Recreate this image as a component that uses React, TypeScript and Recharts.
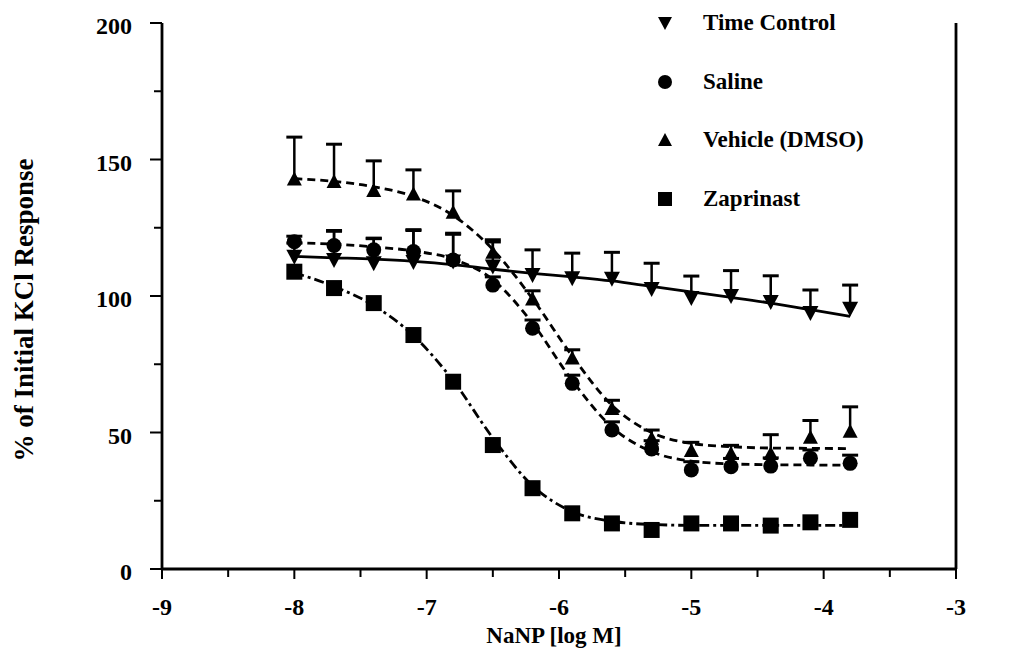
import {
  ComposedChart,
  ErrorBar,
  Line,
  Scatter,
  XAxis,
  YAxis,
} from 'recharts'

// NaNP concentration, log M
const doses = [-8, -7.7, -7.4, -7.1, -6.8, -6.5, -6.2, -5.9, -5.6, -5.3, -5, -4.7, -4.4, -4.1, -3.8]

// measured means (% of initial KCl response)
const timeControl = [114.4, 113.2, 112, 112.5, 112.6, 110.8, 107.7, 106.5, 106.3, 102.6, 99.3, 100, 97.8, 93.8, 95.3]
const saline = [119.9, 118.5, 116.9, 116.3, 113.2, 104, 88.2, 68, 50.9, 44, 36.3, 37.5, 37.7, 40.6, 38.7]
const vehicle = [142.9, 141.9, 138.6, 137.4, 130.7, 116, 98.9, 77.3, 58.8, 47.9, 43.4, 42.3, 42.3, 48.3, 50.5]
const zaprinast = [108.9, 102.9, 97.4, 85.7, 68.6, 45.4, 29.6, 20.4, 16.7, 14.3, 16.7, 16.7, 15.9, 17.1, 18]

// upper SEM
const timeControlErr = [5, 10.5, 9, 11.5, 10, 9, 9.2, 9.2, 9.7, 9.4, 8, 9.3, 9.6, 8.4, 8.7]
const salineErr = [2, 5.5, 4.3, 8, 9.8, 3, 3, 3, 3, 3, 3, 3, 3, 3, 3]
const vehicleErr = [15.3, 13.7, 10.9, 8.8, 7.8, 4.6, 3, 3, 3, 3, 3, 3, 6.9, 6.1, 8.9]

// fitted curves
const timeControlFit = [114.5, 114, 113.5, 112.7, 111.5, 109.8, 108.3, 107, 105.5, 103.5, 101.5, 99.5, 97.4, 95, 92.5]
const salineFit = [119.5, 119, 118, 116.5, 113.5, 106, 90, 69, 52, 43, 39.5, 38.5, 38.2, 38.1, 38]
const vehicleFit = [143, 142, 140, 136.5, 129.5, 117, 99, 78, 60, 50, 46, 44.8, 44.3, 44.2, 44.1]
const zaprinastFit = [108.5, 103.5, 96.5, 85.5, 69, 48, 30.5, 21, 17.5, 16.3, 16, 16, 16, 16, 16]

const xTicks = [-9, -8.5, -8, -7.5, -7, -6.5, -6, -5.5, -5, -4.5, -4, -3.5, -3]
const yTicks = [0, 25, 50, 75, 100, 125, 150, 175, 200]

const legendItems = [
  { name: 'Time Control', marker: 'down' },
  { name: 'Saline', marker: 'circle' },
  { name: 'Vehicle (DMSO)', marker: 'up' },
  { name: 'Zaprinast', marker: 'square' },
]

const rows = doses.map((x, i) => ({
  x,
  tc: timeControl[i],
  sal: saline[i],
  veh: vehicle[i],
  zap: zaprinast[i],
  tcErr: [0, timeControlErr[i]],
  salErr: [0, salineErr[i]],
  vehErr: [0, vehicleErr[i]],
  tcTop: timeControl[i] + timeControlErr[i],
  salTop: saline[i] + salineErr[i],
  vehTop: vehicle[i] + vehicleErr[i],
  tcFit: timeControlFit[i],
  salFit: salineFit[i],
  vehFit: vehicleFit[i],
  zapFit: zaprinastFit[i],
}))

const FONT = '"Liberation Serif", "Times New Roman", serif'

function markerPath(kind: string, cx: number, cy: number, s: number) {
  const h = s / 2
  if (kind === 'down') return `M${cx - h},${cy - h + 1} L${cx + h},${cy - h + 1} L${cx},${cy + h} Z`
  if (kind === 'up') return `M${cx - h},${cy + h - 1} L${cx + h},${cy + h - 1} L${cx},${cy - h} Z`
  if (kind === 'square') return `M${cx - h},${cy - h} h${s} v${s} h${-s} Z`
  return ''
}

const Marker = ({ kind, cx, cy, size }: { kind: string; cx: number; cy: number; size: number }) =>
  kind === 'circle' ? (
    <circle cx={cx} cy={cy} r={size / 2} fill="#000" />
  ) : (
    <path d={markerPath(kind, cx, cy, size)} fill="#000" />
  )

const shapeOf = (kind: string, size: number) => (p: any) => (
  <Marker kind={kind} cx={p.cx} cy={p.cy} size={size} />
)

// cap of an error bar (the stem comes from ErrorBar)
const Cap = (p: any) => (
  <line x1={p.cx - 8} x2={p.cx + 8} y1={p.cy} y2={p.cy} stroke="#000" strokeWidth={3} />
)

const XTick = (p: any) => {
  const v = p.payload.value
  const major = Number.isInteger(v)
  return (
    <g>
      <line x1={p.x} x2={p.x} y1={p.y} y2={p.y + (major ? 10 : 8)} stroke="#000" strokeWidth={2} />
      {major && (
        <text x={p.x} y={p.y + 46} textAnchor="middle" fontFamily={FONT} fontWeight="bold" fontSize={24} fill="#000">
          {String(v)}
        </text>
      )}
    </g>
  )
}

const LeftTick = (p: any) => {
  const v = p.payload.value
  const major = v % 50 === 0
  return (
    <g>
      <line x1={p.x} x2={p.x - (major ? 12 : 8)} y1={p.y} y2={p.y} stroke="#000" strokeWidth={2} />
      {major && (
        <text x={p.x - 30} y={p.y + 11} textAnchor="end" fontFamily={FONT} fontWeight="bold" fontSize={24} fill="#000">
          {v}
        </text>
      )}
    </g>
  )
}

const RightTick = (p: any) => {
  const v = p.payload.value
  const major = v % 50 === 0
  return (
    <g>
      <line x1={p.x} x2={p.x + (major ? 12 : 9)} y1={p.y} y2={p.y} stroke="#000" strokeWidth={2} />
      {major && (
        <text x={p.x + 23} y={p.y + 11} textAnchor="start" fontFamily={FONT} fontWeight="bold" fontSize={24} fill="#000">
          {v}
        </text>
      )}
    </g>
  )
}

const LegendBox = () => (
  <div
    style={{
      position: 'absolute',
      left: 655,
      top: -6,
      fontFamily: FONT,
      fontWeight: 'bold',
      fontSize: 23,
      color: '#000',
      whiteSpace: 'nowrap',
    }}
  >
    {legendItems.map((it) => (
      <div key={it.name} style={{ display: 'flex', alignItems: 'center', height: 58.5 }}>
        <svg width={20} height={20} style={{ marginRight: 28 }}>
          <Marker kind={it.marker} cx={10} cy={10} size={14} />
        </svg>
        <span>{it.name}</span>
      </div>
    ))}
  </div>
)

const fitProps = {
  yAxisId: 'left',
  type: 'monotone' as const,
  stroke: '#000',
  strokeWidth: 2.8,
  dot: false,
  activeDot: false,
  isAnimationActive: false,
}

export default function App() {
  return (
    <div style={{ position: 'absolute', left: 0, top: 0, width: 1024, height: 660, background: '#fff' }}>
      <ComposedChart
        width={1024}
        height={660}
        data={rows}
        margin={{ top: 23, right: 0, bottom: 0, left: 0 }}
      >
        <XAxis
          dataKey="x"
          type="number"
          domain={[-9, -3]}
          ticks={xTicks}
          interval={0}
          tick={<XTick />}
          tickLine={false}
          tickSize={0}
          tickMargin={0}
          height={91}
          axisLine={{ stroke: '#000', strokeWidth: 2.8 }}
          label={{
            content: (lp: any) => (
              <text
                x={lp.viewBox.x + lp.viewBox.width / 2 - 5}
                y={lp.viewBox.y + 74}
                textAnchor="middle"
                fontFamily={FONT}
                fontWeight="bold"
                fontSize={23}
                fill="#000"
              >
                NaNP [log M]
              </text>
            ),
          }}
        />
        <YAxis
          yAxisId="left"
          orientation="left"
          width={162}
          domain={[0, 200]}
          ticks={yTicks}
          interval={0}
          tick={<LeftTick />}
          tickLine={false}
          tickSize={0}
          tickMargin={0}
          axisLine={{ stroke: '#000', strokeWidth: 2.8 }}
          label={{
            content: (lp: any) => {
              const cx = 24
              const cy = lp.viewBox.y + lp.viewBox.height / 2 + 14
              return (
                <text
                  x={cx}
                  y={cy}
                  transform={`rotate(-90 ${cx} ${cy})`}
                  textAnchor="middle"
                  dominantBaseline="central"
                  fontFamily={FONT}
                  fontWeight="bold"
                  fontSize={27}
                  fill="#000"
                >
                  % of Initial KCl Response
                </text>
              )
            },
          }}
        />
        <YAxis
          yAxisId="right"
          orientation="right"
          width={68}
          domain={[0, 200]}
          ticks={yTicks}
          interval={0}
          tick={<RightTick />}
          tickLine={false}
          tickSize={0}
          tickMargin={0}
          axisLine={{ stroke: '#000', strokeWidth: 2.8 }}
        />

        <Line {...fitProps} dataKey="tcFit" />
        <Line {...fitProps} dataKey="salFit" strokeDasharray="8 5" />
        <Line {...fitProps} dataKey="vehFit" strokeDasharray="8 5" />
        <Line {...fitProps} dataKey="zapFit" strokeDasharray="10 4 3 4" />

        <Scatter yAxisId="left" data={rows} dataKey="vehTop" shape={Cap} isAnimationActive={false} />
        <Scatter yAxisId="left" data={rows} dataKey="salTop" shape={Cap} isAnimationActive={false} />
        <Scatter yAxisId="left" data={rows} dataKey="tcTop" shape={Cap} isAnimationActive={false} />

        <Scatter yAxisId="left" data={rows} dataKey="veh" shape={shapeOf('up', 15)} isAnimationActive={false}>
          <ErrorBar dataKey="vehErr" direction="y" width={0} stroke="#000" strokeWidth={2.5} />
        </Scatter>
        <Scatter yAxisId="left" data={rows} dataKey="sal" shape={shapeOf('circle', 15)} isAnimationActive={false}>
          <ErrorBar dataKey="salErr" direction="y" width={0} stroke="#000" strokeWidth={2.5} />
        </Scatter>
        <Scatter yAxisId="left" data={rows} dataKey="tc" shape={shapeOf('down', 16)} isAnimationActive={false}>
          <ErrorBar dataKey="tcErr" direction="y" width={0} stroke="#000" strokeWidth={2.5} />
        </Scatter>
        <Scatter yAxisId="left" data={rows} dataKey="zap" shape={shapeOf('square', 16)} isAnimationActive={false} />
      </ComposedChart>
      <LegendBox />
    </div>
  )
}
